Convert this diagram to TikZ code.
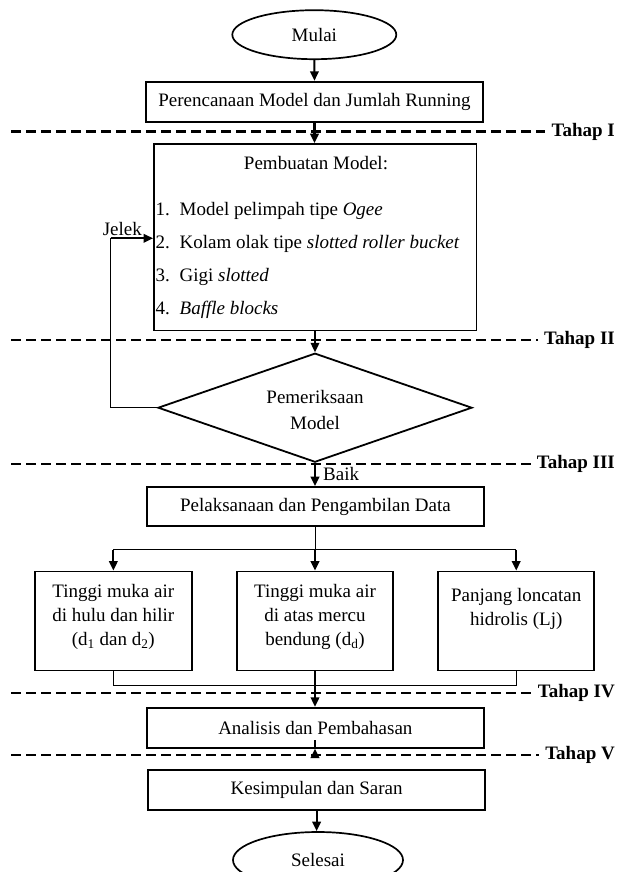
\documentclass[tikz,border=0pt]{standalone}
\usepackage{fontspec}
\setmainfont{Liberation Serif}
\usetikzlibrary{arrows.meta,shapes.geometric}
\newcommand\myfs{\fontsize{19}{24}\selectfont}
\begin{document}
\begin{tikzpicture}[x=1pt,y=-1pt,
  box/.style={draw, line width=1.8pt, rectangle, inner sep=0pt},
  oval/.style={draw, line width=1.7pt, ellipse, inner sep=0pt, font=\myfs},
  txt/.style={inner sep=0pt, font=\myfs, align=center},
  arr/.style={line width=2.1pt, -{Triangle[length=9.5pt,width=8.5pt]}},
  thinl/.style={line width=0.8pt},
  dashl/.style={line width=2.1pt, dash pattern=on 10pt off 5pt, shorten >=6pt},
  tahap/.style={inner sep=0pt, font=\myfs\bfseries, anchor=base east}]
\useasboundingbox (0,0) rectangle (617,872);
% nodes
\node[oval, minimum width=164pt, minimum height=49pt] (mulai) at (314.3,34.7) {Mulai};
\node[box, minimum width=337pt, minimum height=40pt, font=\myfs] (b1) at (314.5,101.7) {Perencanaan Model dan Jumlah Running};
\node[box, minimum width=322.5pt, minimum height=186.5pt] (b2) at (315.25,237.25) {};
\node[txt] (b2t) at (316,163.3) {Pembuatan Model:};
\node[txt, anchor=base west] (i1) at (155.5,215.5) {\makebox[24pt][l]{1.}Model pelimpah tipe \textit{Ogee}};
\node[txt, anchor=base west] (i2) at (155.5,248.5) {\makebox[24pt][l]{2.}Kolam olak tipe \textit{slotted roller bucket}};
\node[txt, anchor=base west] (i3) at (155.5,281.5) {\makebox[24pt][l]{3.}Gigi \textit{slotted}};
\node[txt, anchor=base west] (i4) at (155.5,314.5) {\makebox[24pt][l]{4.}\textit{Baffle blocks}};
\node[draw, line width=1.8pt, diamond, aspect=2.88, minimum width=314pt, minimum height=109pt, inner sep=0pt] (dia) at (315,407.7) {};
\node[txt, font=\fontsize{19}{26}\selectfont] (diat) at (315,409.5) {Pemeriksaan\\Model};
\node[box, minimum width=337pt, minimum height=39pt, font=\myfs] (b3) at (315.4,506.5) {Pelaksanaan dan Pengambilan Data};
\node[box, minimum width=156.7pt, minimum height=99pt] (lb) at (113.35,621) {};
\node[box, minimum width=156.6pt, minimum height=99pt] (mb) at (315,621) {};
\node[box, minimum width=155.7pt, minimum height=99pt] (rb) at (516.2,621) {};
\node[txt] (lbt) at (113.35,617) {Tinggi muka air\\di hulu dan hilir\\(d\textsubscript{1} dan d\textsubscript{2})};
\node[txt] (mbt) at (315,617) {Tinggi muka air\\di atas mercu\\bendung (d\textsubscript{d})};
\node[txt] (rbt) at (516.2,609) {Panjang loncatan\\hidrolis (Lj)};
\node[box, minimum width=337.3pt, minimum height=40pt, font=\myfs] (b4) at (315.35,727.7) {Analisis dan Pembahasan};
\node[box, minimum width=336.7pt, minimum height=40pt, font=\myfs] (b5) at (316.6,790) {Kesimpulan dan Saran};
\node[oval, minimum width=170pt, minimum height=56pt] (sel) at (318,860) {Selesai};
% labels
\node[txt, anchor=base] (jelek) at (122.3,235.5) {Jelek};
\node[txt, anchor=base west] (baik) at (323,480.5) {Baik};
% stage labels and dashed lines
\node[tahap] (t1) at (615,136) {Tahap I};
\node[tahap] (t2) at (615,344.5) {Tahap II};
\node[tahap] (t3) at (615,468.5) {Tahap III};
\node[tahap] (t4) at (615,697.5) {Tahap IV};
\node[tahap] (t5) at (615,759.5) {Tahap V};
\coordinate (s1) at (11,131.5);
\coordinate (s2) at (11,340);
\coordinate (s3) at (11,464);
\coordinate (s4) at (11,693);
\coordinate (s5) at (11,755);
\draw[dashl] (s1) -- (s1 -| t1.west);
\draw[dashl] (s2) -- (s2 -| t2.west);
\draw[dashl] (s3) -- (s3 -| t3.west);
\draw[dashl] (s4) -- (s4 -| t4.west);
\draw[dashl] (s5) -- (s5 -| t5.west);
% connectors
\draw[arr] (mulai.south) -- (b1.north);
\draw[arr] (b1.south) -- (b1.south |- b2.north);
\draw[arr] (b2.south -| dia.north) -- (dia.north);
\draw[arr] (dia.south) -- (dia.south |- b3.north);
\coordinate (lp) at (110.7,238.3);
\draw[thinl] (dia.west) -- (lp |- dia.west) -- (lp);
\draw[arr] (lp) -- (b2.west |- lp);
\coordinate (br) at (315,549.5);
\draw[thinl] (b3.south -| br) -- (br);
\draw[thinl] (lb.north |- br) -- (rb.north |- br);
\draw[arr] (lb.north |- br) -- (lb.north);
\draw[arr] (br) -- (mb.north);
\draw[arr] (rb.north |- br) -- (rb.north);
\coordinate (jn) at (315,685);
\draw[thinl] (lb.south) -- (lb.south |- jn) -- (rb.south |- jn) -- (rb.south);
\draw[arr] (mb.south) -- (mb.south |- b4.north);
\draw[arr] (b4.south -| mb.south) -- (b4.south -| mb.south |- b5.north);
\draw[arr] (b5.south) -- (b5.south |- sel.north);
\end{tikzpicture}
\end{document}
